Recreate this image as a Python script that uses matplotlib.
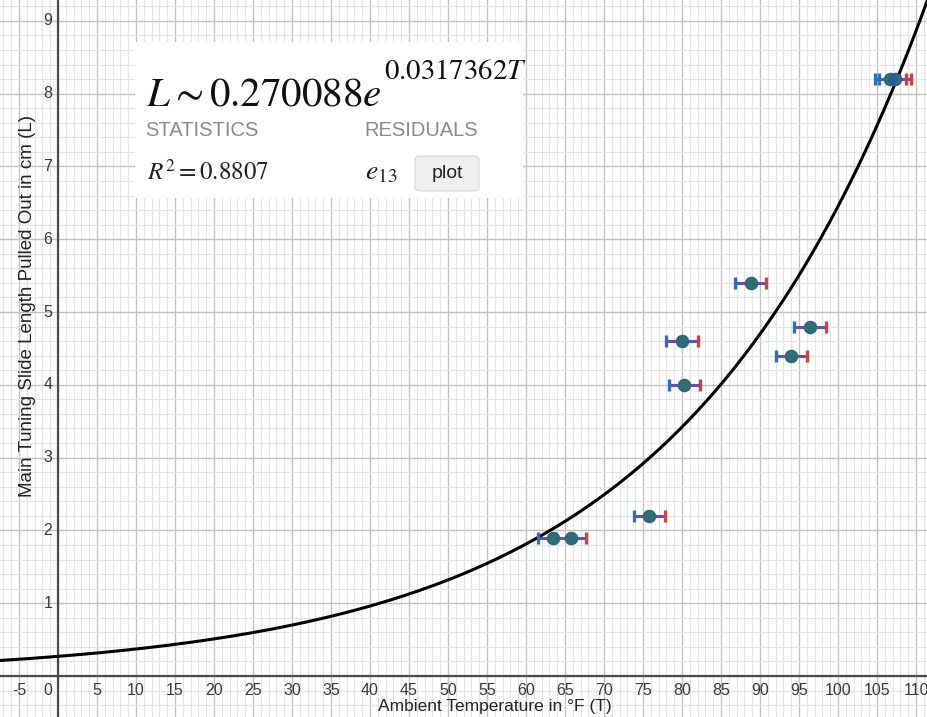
import matplotlib
matplotlib.use("Agg")
import matplotlib.pyplot as plt
import numpy as np
from matplotlib.patches import Rectangle, FancyBboxPatch

plt.rcParams['font.family'] = ['Liberation Sans', 'DejaVu Sans']
plt.rcParams['mathtext.fontset'] = 'stix'

# data
temps = [63.5, 65.7, 75.8, 80.3, 80.0, 88.8, 94.0, 96.4, 106.7, 107.3]
lengths = [1.9, 1.9, 2.2, 4.0, 4.6, 5.4, 4.4, 4.8, 8.2, 8.2]
temp_err = 2.0

# regression L ~ a e^(bT)
a = 0.270088
b = 0.0317362
r2 = 0.8807

x_ticks = [-5, 0, 5, 10, 15, 20, 25, 30, 35, 40, 45, 50, 55, 60, 65, 70, 75, 80,
           85, 90, 95, 100, 105, 110]
y_ticks = [1, 2, 3, 4, 5, 6, 7, 8, 9]

fig = plt.figure(figsize=(9.27, 7.17), dpi=100)
ax = fig.add_axes([0, 0, 1, 1])
ax.set_xlim(-7.44, 111.4)
ax.set_ylim(-0.563, 9.286)
ax.axis('off')

# grid
for gx in np.arange(-7, 112, 1):
    major = gx % 5 == 0
    ax.axvline(gx, color='#c2c2c2' if major else '#e4e4e4', lw=1.0 if major else 0.8, zorder=0)
for gy in np.arange(-0.4, 9.3, 0.2):
    major = abs(gy - round(gy)) < 1e-6
    ax.axhline(gy, color='#c2c2c2' if major else '#e4e4e4', lw=1.0 if major else 0.8, zorder=0)
ax.axvline(0, color='#4a4a4a', lw=1.6, zorder=1)
ax.axhline(0, color='#4a4a4a', lw=1.6, zorder=1)

# tick labels
for t in x_ticks:
    xp = -1.3 if t == 0 else t
    ax.text(xp, -0.2, str(t), ha='center', va='center', fontsize=11.5, color='#3a3a3a',
            zorder=2)
for t in y_ticks:
    ax.text(-0.75, t, str(t), ha='right', va='center', fontsize=11.5, color='#3a3a3a',
            zorder=2)

fig.text(495 / 927, 1 - 706 / 717, 'Ambient Temperature in °F (T)', ha='center',
         va='center', fontsize=12.5, color='#222222')
fig.text(28 / 927, 1 - 306 / 717, 'Main Tuning Slide Length Pulled Out in cm (L)',
         ha='center', va='center', rotation=90, fontsize=13.5, color='#222222')

# fitted curve
tt = np.linspace(-8, 112, 400)
ax.plot(tt, a * np.exp(b * tt), color='black', lw=2.2, zorder=3)

# error bars and points
tarr = np.array(temps)
larr = np.array(lengths)
ax.hlines(larr, tarr - temp_err, tarr + temp_err, color='#6a4fa8', lw=2.2, zorder=4)
ax.scatter(tarr - temp_err, larr, marker='|', s=65, linewidths=2.4, color='#2d70b3', zorder=5)
ax.scatter(tarr + temp_err, larr, marker='|', s=65, linewidths=2.4, color='#c74440', zorder=5)
ax.scatter(tarr, larr, s=75, color='#388c46', zorder=6)
ax.scatter(tarr, larr, s=75, color='#2d4fa3', alpha=0.5, zorder=7)

# regression info box
ax.add_patch(Rectangle((135 / 927, 1 - 198 / 717), (523 - 135) / 927, (198 - 42) / 717,
                       transform=ax.transAxes, facecolor='white', edgecolor='none',
                       zorder=8))
fig.text(146 / 927, 1 - 95 / 717, r'$L \sim 0.270088e$', fontsize=29.5,
         va='center', ha='left', color='#111111', zorder=9)
fig.text(384 / 927, 1 - 71 / 717, r'$%.7fT$' % b, fontsize=20.8,
         va='center', ha='left', color='#111111', zorder=9)
fig.text(145 / 927, 1 - 131 / 717, 'STATISTICS', fontsize=14.5, color='#8a8a8a',
         va='center', ha='left', zorder=9)
fig.text(364 / 927, 1 - 131 / 717, 'RESIDUALS', fontsize=14.5, color='#8a8a8a',
         va='center', ha='left', zorder=9)
fig.text(147 / 927, 1 - 172 / 717, r'$R^2 = %.4f$' % r2, fontsize=18,
         va='center', ha='left', color='#222222', zorder=9)
fig.text(365 / 927, 1 - 172 / 717, r'$e_{13}$', fontsize=20,
         va='center', ha='left', color='#222222', zorder=9)
ax.add_patch(FancyBboxPatch((415 / 927, 1 - 191 / 717), 64 / 927, 35 / 717,
                            boxstyle='round,pad=0,rounding_size=0.006',
                            transform=ax.transAxes, facecolor='#efefef',
                            edgecolor='#d6d6d6', lw=0.8, zorder=9))
fig.text(447 / 927, 1 - 173 / 717, 'plot', fontsize=14, va='center', ha='center',
         color='#222222', zorder=10)

fig.savefig('out.png', dpi=100)
